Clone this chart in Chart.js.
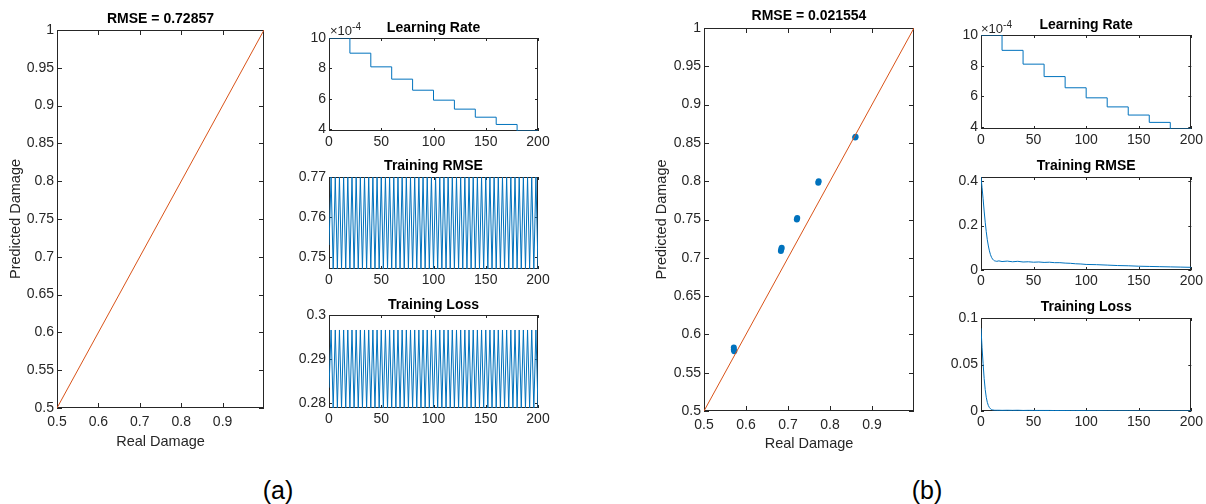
<!DOCTYPE html>
<html>
<head>
<meta charset="utf-8">
<script src="https://cdn.jsdelivr.net/npm/chart.js@4.4.1/dist/chart.umd.min.js"></script>
<style>
body { margin: 0; background: #fff; width: 1206px; height: 504px; position: relative; overflow: hidden;
       font-family: 'Liberation Sans', Arial, sans-serif; }
canvas { position: absolute; }
.txt { position: absolute; color: #262626; white-space: nowrap; }
.exp { font-size: 13px; line-height: 15px; }
.exp sup { font-size: 10px; vertical-align: 5px; line-height: 0; }
.panel { font-size: 25px; line-height: 28px; color: #000; width: 50px; text-align: center; }
</style>
</head>
<body>
<canvas id="mainA"></canvas>
<canvas id="lrA"></canvas>
<canvas id="rmseA"></canvas>
<canvas id="lossA"></canvas>
<canvas id="mainB"></canvas>
<canvas id="lrB"></canvas>
<canvas id="rmseB"></canvas>
<canvas id="lossB"></canvas>
<div class="txt exp" style="left:330px;top:23px">×10<sup>-4</sup></div>
<div class="txt exp" style="left:981px;top:21px">×10<sup>-4</sup></div>
<div class="txt panel" style="left:253px;top:476px">(a)</div>
<div class="txt panel" style="left:902px;top:476px">(b)</div>
<script>
// ---- data ----
// y = x reference line
const diagX = [0.5, 1];
const diagY = [0.5, 1];

// (b) test predictions
const realB = [0.571, 0.571, 0.572, 0.683, 0.684, 0.685, 0.721, 0.722, 0.772, 0.773, 0.860, 0.861];
const predB = [0.583, 0.580, 0.578, 0.709, 0.711, 0.713, 0.750, 0.752, 0.798, 0.800, 0.857, 0.858];

// learning rate (x 10^-4), drop every 20 epochs
const lrEpochs = [0, 20, 40, 60, 80, 100, 120, 140, 160, 180, 200];
const learnRate = [10, 9, 8.1, 7.29, 6.561, 5.905, 5.314, 4.783, 4.305, 3.874, 3.874];

// (a) training did not converge: values jump back and forth
const rmseA = [0.753,
  0.770, 0.747, 0.770, 0.747, 0.770, 0.747, 0.770, 0.747, 0.770, 0.747,
  0.770, 0.747, 0.770, 0.747, 0.770, 0.747, 0.770, 0.747, 0.770, 0.747,
  0.770, 0.747, 0.770, 0.747, 0.770, 0.747, 0.770, 0.747, 0.770, 0.747,
  0.770, 0.747, 0.770, 0.747, 0.770, 0.747, 0.770, 0.747, 0.770, 0.747,
  0.770, 0.747, 0.770, 0.747, 0.770, 0.747, 0.770, 0.747, 0.770, 0.747,
  0.770, 0.747, 0.770, 0.747, 0.770, 0.747, 0.770, 0.747, 0.770, 0.747,
  0.770, 0.747, 0.770, 0.747, 0.770, 0.747, 0.770, 0.747, 0.770, 0.747,
  0.770, 0.747, 0.770, 0.747, 0.770, 0.747, 0.770, 0.747, 0.770, 0.747,
  0.770, 0.747, 0.770, 0.747, 0.770, 0.747, 0.770, 0.747, 0.770, 0.747,
  0.770, 0.747, 0.770, 0.747, 0.770, 0.747, 0.770, 0.747, 0.770, 0.747];
const lossA = [0.2835,
  0.2966, 0.2789, 0.2966, 0.2789, 0.2966, 0.2789, 0.2966, 0.2789, 0.2966, 0.2789,
  0.2966, 0.2789, 0.2966, 0.2789, 0.2966, 0.2789, 0.2966, 0.2789, 0.2966, 0.2789,
  0.2966, 0.2789, 0.2966, 0.2789, 0.2966, 0.2789, 0.2966, 0.2789, 0.2966, 0.2789,
  0.2966, 0.2789, 0.2966, 0.2789, 0.2966, 0.2789, 0.2966, 0.2789, 0.2966, 0.2789,
  0.2966, 0.2789, 0.2966, 0.2789, 0.2966, 0.2789, 0.2966, 0.2789, 0.2966, 0.2789,
  0.2966, 0.2789, 0.2966, 0.2789, 0.2966, 0.2789, 0.2966, 0.2789, 0.2966, 0.2789,
  0.2966, 0.2789, 0.2966, 0.2789, 0.2966, 0.2789, 0.2966, 0.2789, 0.2966, 0.2789,
  0.2966, 0.2789, 0.2966, 0.2789, 0.2966, 0.2789, 0.2966, 0.2789, 0.2966, 0.2789,
  0.2966, 0.2789, 0.2966, 0.2789, 0.2966, 0.2789, 0.2966, 0.2789, 0.2966, 0.2789,
  0.2966, 0.2789, 0.2966, 0.2789, 0.2966, 0.2789, 0.2966, 0.2789, 0.2966, 0.2789];

// (b) training curves
const iterB = [0, 1, 2, 3, 4, 5, 6, 7, 8, 9, 10, 11, 12, 13, 14, 15, 17, 20,
  25, 30, 35, 40, 45, 50, 55, 60, 65, 70, 75, 80, 85, 90, 95, 100,
  110, 120, 130, 140, 150, 160, 170, 180, 190, 200];
const rmseB = [0.418, 0.37, 0.32, 0.265, 0.215, 0.172, 0.136, 0.108, 0.086, 0.069, 0.057, 0.049, 0.044, 0.041, 0.040, 0.039, 0.041, 0.038,
  0.040, 0.037, 0.039, 0.036, 0.037, 0.035, 0.036, 0.034, 0.035, 0.033, 0.033, 0.031, 0.030, 0.028, 0.027, 0.025,
  0.024, 0.022, 0.020, 0.019, 0.017, 0.016, 0.015, 0.014, 0.013, 0.012];
const lossB = [0.089, 0.068, 0.051, 0.035, 0.023, 0.0148, 0.0093, 0.0058, 0.0037, 0.0024, 0.0016, 0.0012, 0.001, 0.0008, 0.0008, 0.0008, 0.0008, 0.0007,
  0.0008, 0.0007, 0.0008, 0.0006, 0.0007, 0.0006, 0.0006, 0.0006, 0.0006, 0.0005, 0.0005, 0.0005, 0.0004, 0.0004, 0.0004, 0.0003,
  0.0003, 0.0002, 0.0002, 0.0002, 0.0001, 0.0001, 0.0001, 0.0001, 0.0001, 0.0001];

// tick labels
const damageTicksX = [0.5, 0.6, 0.7, 0.8, 0.9];
const damageTicksY = [0.5, 0.55, 0.6, 0.65, 0.7, 0.75, 0.8, 0.85, 0.9, 0.95, 1];
const iterTicks = [0, 50, 100, 150, 200];
const lrTicks = [4, 6, 8, 10];
const rmseTicksA = [0.75, 0.76, 0.77];
const lossTicksA = [0.28, 0.29, 0.3];
const rmseTicksB = [0, 0.2, 0.4];
const lossTicksB = [0, 0.05, 0.1];

// ---- drawing ----
const FONT = "'Liberation Sans', Arial, sans-serif";
const AXIS = '#262626';
const BLUE = '#0072BD';
const ORANGE = '#D95319';

const pts = (xs, ys) => ys.map((y, i) => ({ x: xs[i], y: y }));
const byIndex = (ys, last) => ys.map((y, i) => ({ x: i * last / (ys.length - 1), y: y }));

// matlab style box with ticks pointing inward, drawn under the data
Chart.register({
    id: 'boxTicks',
    beforeDatasetsDraw(chart, args, opts) {
        const { ctx, chartArea: a, scales } = chart;
        const len = opts.len || 4;
        ctx.save();
        ctx.strokeStyle = AXIS;
        ctx.lineWidth = 1;
        ctx.beginPath();
        scales.x.ticks.forEach(t => {
            const px = Math.round(scales.x.getPixelForValue(t.value)) + 0.5;
            ctx.moveTo(px, a.bottom); ctx.lineTo(px, a.bottom - len);
            ctx.moveTo(px, a.top); ctx.lineTo(px, a.top + len);
        });
        scales.y.ticks.forEach(t => {
            const py = Math.round(scales.y.getPixelForValue(t.value)) + 0.5;
            ctx.moveTo(a.left, py); ctx.lineTo(a.left + len, py);
            ctx.moveTo(a.right, py); ctx.lineTo(a.right - len, py);
        });
        ctx.stroke();
        ctx.strokeRect(Math.round(a.left) + 0.5, Math.round(a.top) + 0.5,
            Math.round(a.right - a.left) - 1, Math.round(a.bottom - a.top) - 1);
        ctx.restore();
    }
});

function axis(min, max, tickVals, size, pad, fontSize, title) {
    const cfg = {
        type: 'linear', min: min, max: max,
        grid: { display: false, drawTicks: false },
        border: { display: false },
        afterBuildTicks: s => { s.ticks = tickVals.map(v => ({ value: v })); },
        afterFit: s => { if (s.isHorizontal()) s.height = size; else s.width = size; },
        ticks: {
            color: AXIS, padding: pad, maxRotation: 0, autoSkip: false,
            font: { family: FONT, size: fontSize },
            callback: v => String(+v.toFixed(4))
        }
    };
    if (title) {
        cfg.title = { display: true, text: title.text, color: AXIS,
            font: { family: FONT, size: 14.5 }, padding: title.padding };
    }
    return cfg;
}

function makeChart(id, area, m, titleText, titleGap, xAxis, yAxis, datasets, tickLen) {
    const cv = document.getElementById(id);
    const W = area[2] - area[0] + m.l + m.r;
    const H = area[3] - area[1] + m.t + m.b;
    cv.width = W; cv.height = H;
    cv.style.left = (area[0] - m.l) + 'px';
    cv.style.top = (area[1] - m.t) + 'px';
    cv.style.width = W + 'px';
    cv.style.height = H + 'px';
    const padTop = m.t - titleGap - 8.4;
    new Chart(cv, {
        type: 'scatter',
        data: { datasets: datasets },
        options: {
            responsive: false,
            animation: false,
            events: [],
            layout: { padding: { left: 0, top: 0, right: m.r, bottom: 0 } },
            plugins: {
                legend: { display: false },
                tooltip: { enabled: false },
                title: {
                    display: true, text: titleText, color: '#000', fullSize: false,
                    font: { family: FONT, size: 14, weight: 'bold' },
                    padding: { top: padTop, bottom: m.t - padTop - 16.8 }
                },
                boxTicks: { len: tickLen }
            },
            scales: { x: xAxis, y: yAxis }
        }
    });
}

const lineSet = (data, color, extra) => Object.assign({
    data: data, showLine: true, borderColor: color, borderWidth: 1,
    pointRadius: 0, fill: false
}, extra || {});

// (a) main
makeChart('mainA', [57, 30, 264, 408], { l: 57, t: 30, r: 12, b: 44 }, 'RMSE = 0.72857', 11,
    axis(0.5, 1, damageTicksX, 44, 6, 14, { text: 'Real Damage', padding: { top: 0, bottom: 1.3 } }),
    axis(0.5, 1, damageTicksY, 57, 3, 14, { text: 'Predicted Damage', padding: { top: 7, bottom: 0 } }),
    [lineSet(pts(diagX, diagY), ORANGE)], 5);

// (a) small
makeChart('lrA', [329, 38, 538, 131], { l: 40, t: 20, r: 16, b: 24 }, 'Learning Rate', 10,
    axis(0, 200, iterTicks, 24, 3, 14), axis(3.874, 10, lrTicks, 40, 3, 14),
    [lineSet(pts(lrEpochs, learnRate), BLUE, { stepped: true })], 3);
makeChart('rmseA', [329, 177, 538, 269], { l: 40, t: 20, r: 16, b: 24 }, 'Training RMSE', 11,
    axis(0, 200, iterTicks, 24, 3, 14), axis(0.747, 0.77, rmseTicksA, 40, 3, 14),
    [lineSet(byIndex(rmseA, 200), BLUE)], 3);
makeChart('lossA', [329, 315, 538, 408], { l: 40, t: 20, r: 16, b: 24 }, 'Training Loss', 10,
    axis(0, 200, iterTicks, 24, 3, 14), axis(0.2789, 0.3, lossTicksA, 40, 3, 14),
    [lineSet(byIndex(lossA, 200), BLUE)], 3);

// (b) main
makeChart('mainB', [704, 28, 914, 411], { l: 60, t: 28, r: 12, b: 44 }, 'RMSE = 0.021554', 12,
    axis(0.5, 1, damageTicksX, 44, 6, 14, { text: 'Real Damage', padding: { top: 0, bottom: 2.3 } }),
    axis(0.5, 1, damageTicksY, 60, 3, 14, { text: 'Predicted Damage', padding: { top: 9.3, bottom: 0 } }),
    [lineSet(pts(diagX, diagY), ORANGE),
     { data: pts(realB, predB), backgroundColor: BLUE, borderWidth: 0, pointRadius: 3 }], 5);

// (b) small
makeChart('lrB', [981, 35, 1192, 129], { l: 40, t: 20, r: 14, b: 24 }, 'Learning Rate', 10,
    axis(0, 200, iterTicks, 24, 3, 14), axis(3.874, 10, lrTicks, 40, 3, 14),
    [lineSet(pts(lrEpochs, learnRate), BLUE, { stepped: true })], 3);
makeChart('rmseB', [981, 177, 1192, 270], { l: 40, t: 20, r: 14, b: 24 }, 'Training RMSE', 11,
    axis(0, 200, iterTicks, 24, 3, 14), axis(0, 0.418, rmseTicksB, 40, 3, 14),
    [lineSet(pts(iterB, rmseB), BLUE)], 3);
makeChart('lossB', [981, 318, 1192, 411], { l: 40, t: 20, r: 14, b: 24 }, 'Training Loss', 11,
    axis(0, 200, iterTicks, 24, 3, 14), axis(0, 0.1, lossTicksB, 40, 3, 14),
    [lineSet(pts(iterB, lossB), BLUE)], 3);
</script>
</body>
</html>
